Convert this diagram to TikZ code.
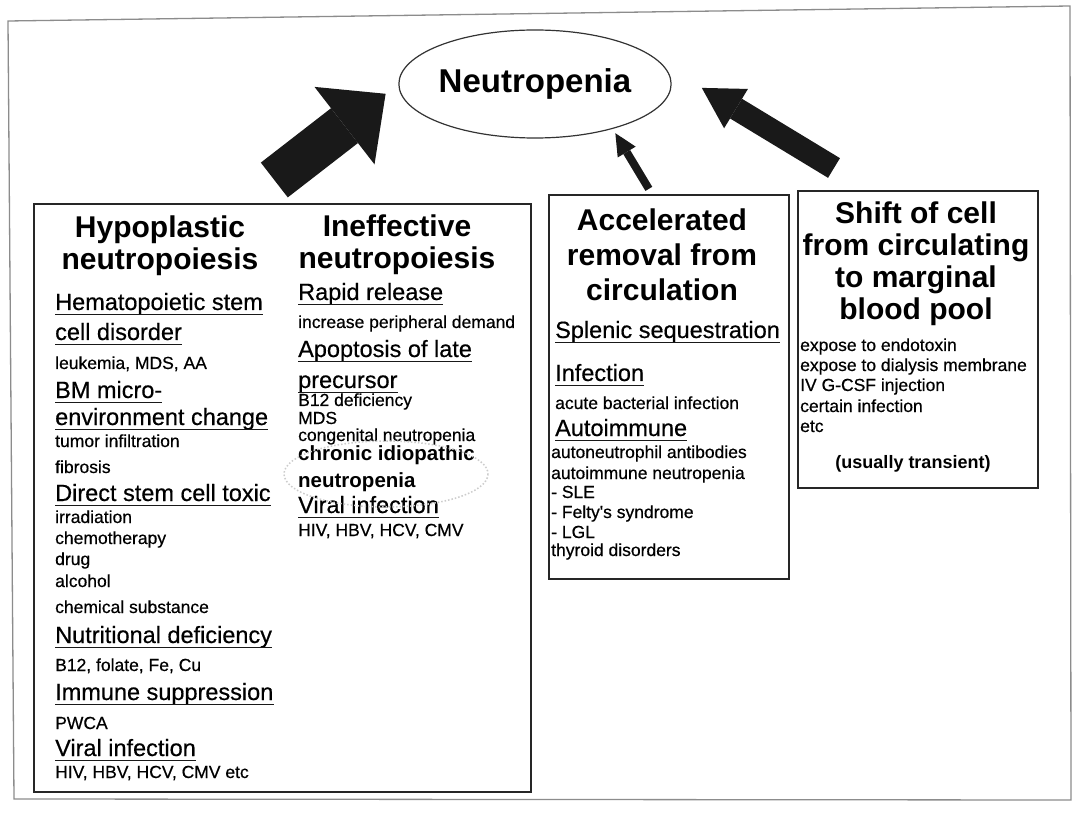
\documentclass[tikz,border=0pt]{standalone}
\usepackage{fontspec}
\setmainfont{Liberation Sans}
\newfontfamily\scanfont{Liberation Sans}[FakeBold=0.5]
\usetikzlibrary{arrows.meta,shapes.geometric}

\tikzset{
  box/.style={draw=black!85, line width=1.6pt, anchor=north west, inner sep=0pt},
  boxtitle/.style={font=\fontsize{30}{32}\selectfont\bfseries, align=center, inner sep=0pt},
  subhead/.style={font=\scanfont\fontsize{23.5}{27}\selectfont, anchor=base west, inner sep=0pt},
  entry/.style={font=\scanfont\fontsize{17.5}{20}\selectfont, anchor=base west, inner sep=0pt},
  boldentry/.style={font=\fontsize{20.5}{24}\selectfont\bfseries, anchor=base west, inner sep=0pt},
  uline/.style={line width=1.8pt, black!90},
  fat/.style={line width=#1, draw=black!90}
}

\begin{document}
\begin{tikzpicture}[x=1pt,y=-1pt]
\useasboundingbox (0,0) rectangle (1074,818);
\fill[white] (0,0) rectangle (1074,818);
\draw[black!45, line width=1.3pt] (8,21) -- (1070,6) -- (1071,800) -- (14,799) -- cycle;

\node[draw=black!80, line width=1.2pt, ellipse, minimum width=242pt, minimum height=108pt,
      inner sep=0pt, font=\fontsize{33}{36}\selectfont\bfseries] (neu) at (535,84) {\raisebox{3pt}{Neutropenia}};

\node[box, minimum width=497pt, minimum height=588pt] (hyp) at (33,203) {};
\node[box, minimum width=240pt, minimum height=384pt] (acc) at (548,194) {};
\node[box, minimum width=240pt, minimum height=297pt] (shf) at (797,190) {};

\draw[fat=44pt, -{Triangle[length=52pt,width=98pt,line width=0pt]}, shorten >=16pt]
  ([xshift=-8pt,yshift=23pt]hyp.north) -- (neu.west);
\draw[fat=8pt, -{Triangle[length=22pt,width=21pt,line width=0pt]}, shorten <=6pt, shorten >=5pt]
  (acc.95) -- (neu.-30);
\draw[fat=23pt, -{Triangle[length=40pt,width=46pt,line width=0pt]}, shorten >=82pt]
  ([xshift=37pt,yshift=22pt]shf.north west) -- (neu.north east);

\node[boxtitle] (hypt) at (160,246) {Hypoplastic\\neutropoiesis};
\node[boxtitle] (ineft) at (397,245) {Ineffective\\neutropoiesis};
\node[boxtitle, font=\fontsize{30}{35}\selectfont\bfseries] (acct) at (662,255) {Accelerated\\removal from\\circulation};
\node[boxtitle] (shft) at (916,264) {Shift of cell\\from circulating\\to marginal\\blood pool};

\foreach \y/\t in {310/Hematopoietic stem, 340/cell disorder, 398/BM micro-, 425/environment change,
  501/Direct stem cell toxic, 643/Nutritional deficiency, 700/Immune suppression, 756/Viral infection}{
  \node[subhead] (hs\y) at (55,\y) {\t};
  \draw[uline] ([yshift=-4.5pt]hs\y.base west) -- ([yshift=-4.5pt]hs\y.base east);
}
\foreach \y/\t in {369/{leukemia, MDS, AA}, 447/tumor infiltration, 473/fibrosis, 523/irradiation,
  544/chemotherapy, 565/drug, 587/alcohol, 613/chemical substance, 671/{B12, folate, Fe, Cu},
  729/PWCA, 778/{HIV, HBV, HCV, CMV etc}}
  \node[entry] (he\y) at (55,\y) {\t};

\foreach \y/\t in {300/Rapid release, 357/Apoptosis of late, 388/precursor, 513/Viral infection}{
  \node[subhead] (is\y) at (298,\y) {\t};
  \draw[uline] ([yshift=-4.5pt]is\y.base west) -- ([yshift=-4.5pt]is\y.base east);
}
\foreach \y/\t in {328/increase peripheral demand, 406/B12 deficiency, 424/MDS,
  441/congenital neutropenia, 536/{HIV, HBV, HCV, CMV}}
  \node[entry] (ie\y) at (298,\y) {\t};
\foreach \y/\t in {460/chronic idiopathic, 487/neutropenia}
  \node[boldentry] (ib\y) at (298,\y) {\t};
\draw[black!20, dotted, line width=1.5pt] (386,474) ellipse [x radius=102, y radius=33];

\foreach \y/\t in {338/Splenic sequestration, 381/Infection, 436/Autoimmune}{
  \node[subhead] (as\y) at (555,\y) {\t};
  \draw[uline] ([yshift=-4.5pt]as\y.base west) -- ([yshift=-4.5pt]as\y.base east);
}
\node[entry] (ae409) at (555,409) {acute bacterial infection};
\foreach \y/\t in {458/autoneutrophil antibodies, 479/autoimmune neutropenia, 498/- SLE,
  518/- Felty's syndrome, 538/- LGL, 556/thyroid disorders}
  \node[entry] (ae\y) at (551,\y) {\t};

\foreach \y/\t in {351/expose to endotoxin, 371/expose to dialysis membrane, 391/IV G-CSF injection,
  412/certain infection, 432/etc}
  \node[entry] (se\y) at (800,\y) {\t};
\node[font=\fontsize{18}{20}\selectfont\bfseries, anchor=base, inner sep=0pt] (ut) at (913,468) {(usually transient)};
\end{tikzpicture}
\end{document}
